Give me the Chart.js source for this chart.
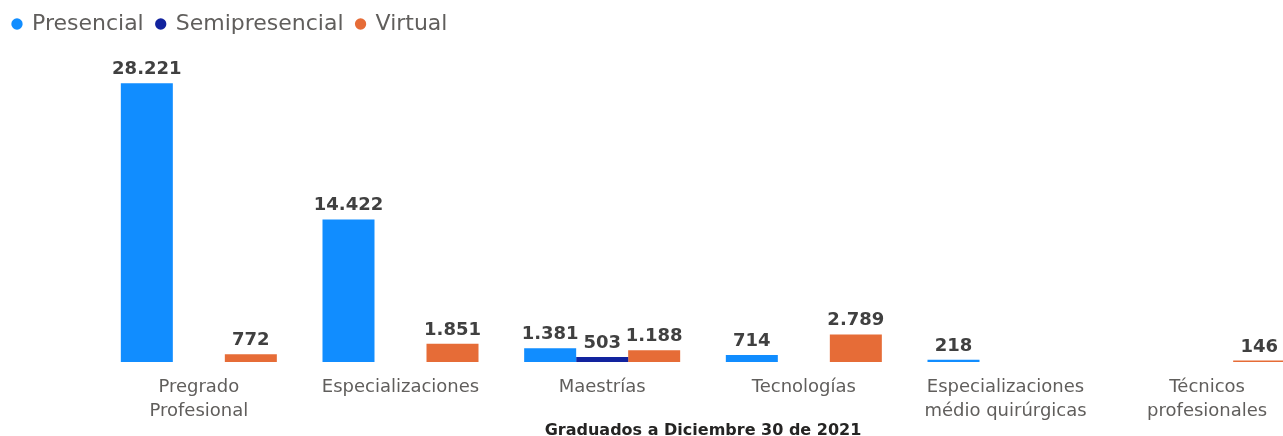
<!DOCTYPE html>
<html>
<head>
<meta charset="utf-8">
<script src="https://cdn.jsdelivr.net/npm/chart.js@4/dist/chart.umd.min.js"></script>
<style>
html,body{margin:0;padding:0;background:#fff;overflow:hidden;}
#wrap{width:1318px;height:436px;}
</style>
</head>
<body>
<div id="wrap"><canvas id="c" width="1318" height="436"></canvas></div>
<script>
const categories = [
  ["Pregrado", "Profesional"],
  "Especializaciones",
  "Maestrías",
  "Tecnologías",
  ["Especializaciones", "médio quirúrgicas"],
  ["Técnicos", "profesionales"]
];
const presencial     = [28221, 14422, 1381, 714, 218, null];
const semipresencial = [null, null, 503, null, null, null];
const virtual        = [772, 1851, 1188, 2789, null, 146];
const seriesNames = ["Presencial", "Semipresencial", "Virtual"];
const axisTitle = "Graduados a Diciembre 30 de 2021";

const FONT = "'DejaVu Sans', sans-serif";

function fmt(v) {
  return String(v).replace(/\B(?=(\d{3})+(?!\d))/g, ".");
}

const dataLabels = {
  id: "dataLabels",
  afterDatasetsDraw(chart) {
    const ctx = chart.ctx;
    ctx.save();
    ctx.font = "bold 18px " + FONT;
    ctx.fillStyle = "#404040";
    ctx.textAlign = "center";
    ctx.textBaseline = "alphabetic";
    chart.data.datasets.forEach((ds, i) => {
      const meta = chart.getDatasetMeta(i);
      meta.data.forEach((el, j) => {
        const v = ds.data[j];
        if (v === null || v === undefined) return;
        ctx.fillText(fmt(v), el.x, el.y - 9);
      });
    });
    ctx.restore();
  }
};

new Chart(document.getElementById("c"), {
  type: "bar",
  data: {
    labels: categories,
    datasets: [
      { label: seriesNames[0], data: presencial, backgroundColor: "#118DFF" },
      { label: seriesNames[1], data: semipresencial, backgroundColor: "#12239E" },
      { label: seriesNames[2], data: virtual, backgroundColor: "#E66C37" }
    ]
  },
  options: {
    responsive: false,
    devicePixelRatio: 1,
    animation: false,
    layout: { padding: { left: 0, right: 10, top: 0, bottom: 0 } },
    datasets: {
      bar: { categoryPercentage: 0.7736, barPercentage: 1.0 }
    },
    plugins: {
      legend: {
        position: "top",
        align: "start",
        labels: {
          usePointStyle: true,
          pointStyle: "circle",
          boxWidth: 8,
          boxHeight: 8,
          padding: 13,
          color: "#605E5C",
          font: { family: FONT, size: 22 }
        }
      },
      tooltip: { enabled: false }
    },
    scales: {
      x: {
        grid: { display: false, drawTicks: false },
        border: { display: false },
        ticks: {
          color: "#605E5C",
          padding: 14,
          maxRotation: 0,
          autoSkip: false,
          font: { family: FONT, size: 18, lineHeight: 1.3 }
        },
        title: {
          display: true,
          text: axisTitle,
          color: "#252423",
          padding: { top: 0, bottom: -4 },
          font: { family: FONT, size: 16, weight: "bold" }
        },
        afterFit(s) { s.height = 74; }
      },
      y: {
        min: 0,
        max: 32080,
        grid: { display: false, drawTicks: false },
        border: { display: false },
        ticks: { display: false },
        afterFit(s) { s.width = 98; }
      }
    }
  },
  plugins: [dataLabels]
});
</script>
</body>
</html>
